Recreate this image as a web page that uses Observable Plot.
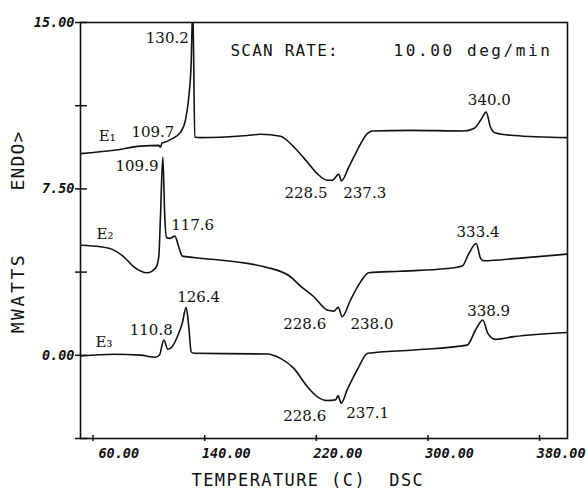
<!DOCTYPE html>
<html><head><meta charset="utf-8">
<script src="https://cdn.jsdelivr.net/npm/d3@7"></script>
<script src="https://cdn.jsdelivr.net/npm/@observablehq/plot@0.6"></script>
<style>body{margin:0;background:#fff}#chart svg{display:block}</style>
</head><body><div id="chart"></div>
<script>
// ---- data ----
const xTicks = [60, 140, 220, 300, 380];
const yTicks = [-3.75, 0, 3.75, 7.5, 11.25, 15];
const yLabelTicks = [0, 7.5, 15];

const curveNames = ["E₁", "E₂", "E₃"];

const e1T = [51, 74.9, 94.0, 107.1, 108.3, 109.5, 111.2, 115.5, 122.7, 126.2, 128.6, 130.3, 131.5, 132.9, 137.0, 170.5, 180.0, 194.3, 203.9, 213.5, 220.6, 227.8, 231.4, 236.1, 238.0, 243.3, 249.3, 256.5, 260.0, 287.5, 325.7, 332.9, 337.7, 341.7, 344.8, 348.4, 361.5, 400];
const e1V = [9.09, 9.24, 9.43, 9.46, 9.38, 9.58, 9.60, 9.72, 10.06, 10.59, 11.64, 13.14, 15.8, 9.84, 9.81, 9.91, 9.96, 9.87, 9.39, 8.71, 8.19, 7.89, 7.89, 8.16, 7.86, 8.49, 9.24, 9.99, 10.11, 10.14, 10.11, 10.22, 10.59, 10.96, 10.29, 10.02, 9.91, 9.81];

const e2T = [51, 65.3, 74.9, 82.0, 89.2, 98.8, 104.7, 107.1, 108.3, 110.0, 111.4, 112.6, 115.0, 118.6, 121.4, 123.9, 132.2, 184.8, 201.5, 208.7, 218.2, 227.8, 232.5, 235.7, 238.5, 244.5, 251.7, 257.6, 280.3, 313.8, 324.5, 329.3, 334.6, 337.7, 340.0, 364.0, 400];
const e2V = [4.96, 4.89, 4.74, 4.44, 3.99, 3.72, 3.92, 4.44, 6.24, 8.94, 6.24, 5.31, 5.27, 5.37, 4.89, 4.47, 4.41, 3.96, 3.54, 3.12, 2.64, 2.04, 1.99, 2.16, 1.74, 2.49, 3.31, 3.72, 3.79, 3.91, 4.02, 4.59, 5.04, 4.37, 4.26, 4.37, 4.56];

const e3T = [51, 74.9, 94.0, 104.7, 107.6, 110.7, 113.6, 116.7, 121.4, 123.9, 126.7, 128.6, 130.3, 132.2, 184.8, 194.3, 203.9, 213.5, 220.6, 227.8, 233.7, 235.6, 237.8, 242.1, 249.3, 256.9, 289.9, 328.1, 334.1, 339.3, 342.9, 348.4, 361.5, 400];
const e3V = [-0.03, 0.05, 0.01, -0.09, 0.01, 0.69, 0.27, 0.39, 0.99, 1.44, 2.16, 1.29, 0.16, 0.09, 0.06, -0.14, -0.59, -1.41, -1.86, -2.04, -2.01, -1.83, -2.16, -1.56, -0.66, 0.09, 0.24, 0.46, 1.14, 1.59, 0.99, 0.72, 0.84, 1.03];

const peakLabels = ["130.2", "109.7", "109.9", "117.6", "126.4", "110.8", "228.5", "237.3", "340.0", "228.6", "238.0", "333.4", "228.6", "237.1", "338.9"];

const scanRateLabel = "SCAN RATE:";
const scanRateValue = "10.00 deg/min";
const xTitle = "TEMPERATURE (C)  DSC";
const yTitle = "MWATTS";
const yTitle2 = "ENDO>";

// ---- layout (annotation placement in data units) ----
const peakLayout = [
  [128.6, 14.07, "end"], [87.5, 9.86, "start"], [76.1, 8.30, "start"], [116.0, 5.63, "start"],
  [120.3, 2.39, "start"], [86.3, 0.92, "start"], [197.2, 7.08, "start"], [239.3, 7.08, "start"],
  [328.6, 11.30, "start"], [196.3, 1.19, "start"], [244.5, 1.19, "start"], [320.5, 5.32, "start"],
  [196.3, -2.94, "start"], [241.4, -2.82, "start"], [328.1, 1.79, "start"]
];
const nameLayout = [[64.1, 9.65], [62.5, 5.25], [61.7, 0.37]];

const rows = [];
[[e1T, e1V], [e2T, e2V], [e3T, e3V]].forEach(([T, V], k) =>
  T.forEach((t, i) => rows.push({curve: curveNames[k], t, v: V[i]})));

const annos = peakLabels.map((label, i) => ({label, x: peakLayout[i][0], y: peakLayout[i][1], anchor: peakLayout[i][2]}));
const names = curveNames.map((label, i) => ({label, x: nameLayout[i][0], y: nameLayout[i][1]}));

const ink = "#111";
const serif = "DejaVu Serif";
const mono = "DejaVu Sans Mono";
const tickFont = {fontFamily: mono, fontSize: 13.5, fontWeight: "bold", fontStyle: "oblique", fill: ink};

const chart = Plot.plot({
  width: 587, height: 488,
  marginLeft: 80, marginRight: 20, marginTop: 22, marginBottom: 50,
  x: {domain: [51, 400], label: null},
  y: {domain: [-3.75, 15], label: null},
  style: {background: "#fff", color: ink},
  marks: [
    Plot.frame({stroke: ink, strokeWidth: 1.6}),
    Plot.axisY(yTicks, {tickSize: 12, dx: 7, tickFormat: () => "", stroke: ink, strokeWidth: 1.5, label: null}),
    Plot.axisY(yLabelTicks, {tickSize: 0, tickPadding: 6, tickFormat: d => d.toFixed(2), label: null, ...tickFont}),
    Plot.axisX(xTicks, {tickSize: 6, dy: -3, tickFormat: () => "", stroke: ink, strokeWidth: 1.5, label: null}),
    Plot.axisX(xTicks, {tickSize: 0, tickPadding: 10, textAnchor: "end", dx: 46, tickFormat: d => d.toFixed(2), label: null, ...tickFont}),
    Plot.line(rows, {x: "t", y: "v", z: "curve", curve: "monotone-x", stroke: ink, strokeWidth: 1.6, clip: true}),
    Plot.text(annos.filter(d => d.anchor === "start"), {x: "x", y: "y", text: "label", textAnchor: "start", lineAnchor: "bottom", fontFamily: serif, fontSize: 15, fill: ink}),
    Plot.text(annos.filter(d => d.anchor === "end"), {x: "x", y: "y", text: "label", textAnchor: "end", lineAnchor: "bottom", fontFamily: serif, fontSize: 15, fill: ink}),
    Plot.text(names, {x: "x", y: "y", text: "label", textAnchor: "start", lineAnchor: "bottom", fontFamily: serif, fontSize: 15, fill: ink}),
    Plot.text([scanRateLabel], {frameAnchor: "top-left", dx: 150, dy: 33, textAnchor: "start", lineAnchor: "bottom", fontFamily: mono, fontSize: 16, fill: ink}),
    Plot.text([scanRateValue], {frameAnchor: "top-left", dx: 313, dy: 33, textAnchor: "start", lineAnchor: "bottom", fontFamily: mono, fontSize: 16, fill: ink}),
    Plot.text([xTitle], {frameAnchor: "bottom-left", dx: 111, dy: 47, textAnchor: "start", lineAnchor: "bottom", fontFamily: mono, fontSize: 17, fill: ink}),
    Plot.text([yTitle], {frameAnchor: "left", dx: -62.5, dy: 62.5, rotate: -90, textAnchor: "middle", lineAnchor: "middle", fontFamily: mono, fontSize: 18, fill: ink}),
    Plot.text([yTitle2], {frameAnchor: "left", dx: -62.5, dy: -70, rotate: -90, textAnchor: "middle", lineAnchor: "middle", fontFamily: mono, fontSize: 18, fill: ink})
  ]
});

const spacing = {[scanRateLabel]: 1.2, [scanRateValue]: 2.6, [xTitle]: 1.4, [yTitle]: 2.6, [yTitle2]: 1.2};
d3.select(chart).selectAll("text").each(function() {
  const s = spacing[this.textContent];
  if (s != null) this.setAttribute("letter-spacing", s);
});
document.getElementById("chart").appendChild(chart);
</script>
</body></html>
